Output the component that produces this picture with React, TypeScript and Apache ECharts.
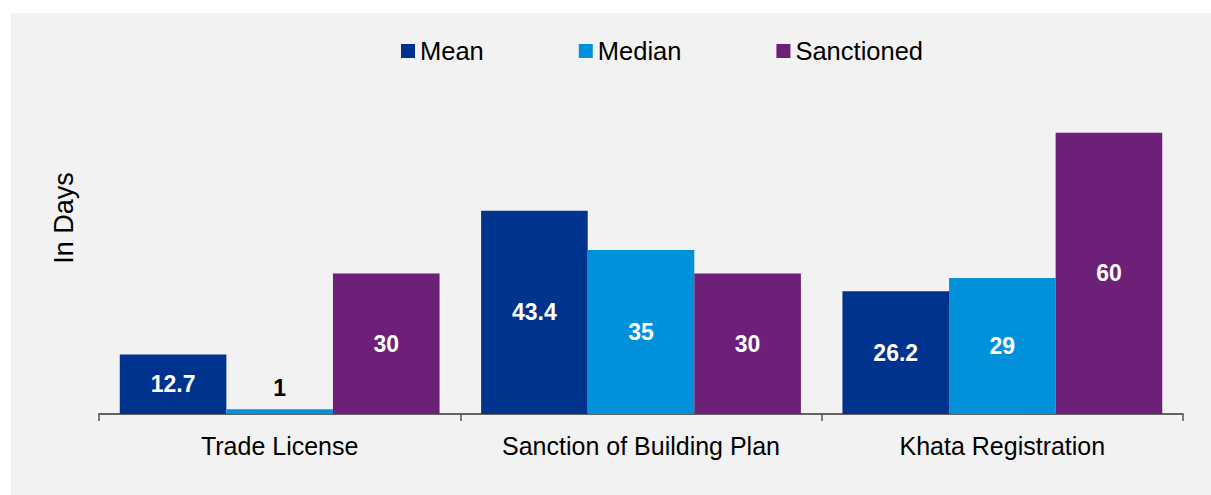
import React, { useEffect, useRef } from "react";
import * as echarts from "echarts";

const categories = ["Trade License", "Sanction of Building Plan", "Khata Registration"];
const meanValues = [12.7, 43.4, 26.2];
const medianValues = [1, 35, 29];
const sanctionedValues = [30, 30, 60];
const seriesNames = ["Mean", "Median", "Sanctioned"];
const colors = ["#00338D", "#0091DA", "#6D2077"];
const yAxisTitle = "In Days";

const FONT = "'Liberation Sans', Arial, sans-serif";

export default function App() {
  const ref = useRef<HTMLDivElement>(null);
  useEffect(() => {
    if (!ref.current) return;
    const chart = echarts.init(ref.current, null, { renderer: "svg" });
    const values = [meanValues, medianValues, sanctionedValues];
    chart.setOption({
      animation: false,
      backgroundColor: "#f2f2f2",
      textStyle: { fontFamily: FONT },
      legend: {
        top: 20,
        left: 385,
        itemWidth: 14,
        itemHeight: 14,
        itemGap: 95,
        icon: "rect",
        textStyle: { fontSize: 25.5, color: "#000", fontFamily: FONT },
        data: seriesNames,
      },
      graphic: [
        {
          type: "text",
          x: 53,
          y: 205,
          rotation: Math.PI / 2,
          style: {
            text: yAxisTitle,
            fontSize: 27,
            fontFamily: FONT,
            fill: "#000",
            align: "center",
            verticalAlign: "middle",
          },
        },
      ],
      grid: { left: 88, right: 28, top: 73, bottom: 81 },
      xAxis: {
        type: "category",
        data: categories,
        axisLine: { lineStyle: { color: "#333", width: 1.5 } },
        axisTick: { show: true, interval: 0, length: 7, lineStyle: { color: "#555", width: 1.5 } },
        axisLabel: { interval: 0, hideOverlap: false, fontSize: 25, color: "#000", fontFamily: FONT, margin: 19 },
      },
      yAxis: {
        type: "value",
        min: 0,
        max: 70,
        show: false,
        splitLine: { show: false },
      },
      series: seriesNames.map((name, i) => ({
        name,
        type: "bar",
        data: values[i].map((v) => ({
          value: v,
          label: v < 5
            ? { position: "top", color: "#000", distance: 10 }
            : undefined,
        })),
        barWidth: "29.5%",
        barGap: "0%",
        itemStyle: { color: colors[i] },
        label: {
          show: true,
          position: "inside",
          color: "#fff",
          fontWeight: "bold",
          fontSize: 23,
          fontFamily: FONT,
        },
      })),
    });
    return () => chart.dispose();
  }, []);
  return (
    <div style={{ position: "absolute", left: 0, top: 0, width: 1211, height: 495, background: "#fff" }}>
      <div ref={ref} style={{ position: "absolute", left: 11, top: 13, width: 1200, height: 482 }} />
    </div>
  );
}
